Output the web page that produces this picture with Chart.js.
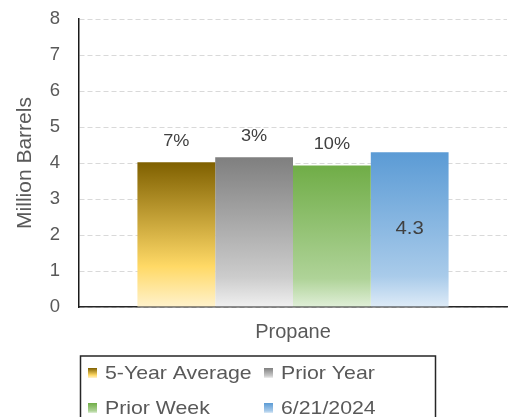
<!DOCTYPE html>
<html>
<head>
<meta charset="utf-8">
<script src="https://cdn.jsdelivr.net/npm/chart.js@4.4.1/dist/chart.umd.min.js"></script>
<style>
  html, body { margin: 0; padding: 0; background: #fff; }
</style>
</head>
<body>
<canvas id="myChart" width="514" height="417"></canvas>
<script>
// chart data
const categories = ['Propane'];
const seriesNames = ['5-Year Average', 'Prior Year', 'Prior Week', '6/21/2024'];
const fiveYearAverage = [4.02];
const priorYear = [4.16];
const priorWeek = [3.93];
const currentWeek = [4.3];
const changeLabels = ['7%', '3%', '10%'];
const yTicks = [0, 1, 2, 3, 4, 5, 6, 7, 8];

// gradient stops per series (top -> bottom)
const seriesStops = [
    [[0, '#7f6000'], [0.72, '#ffd966'], [1, '#fff2cc']],
    [[0, '#7f7f7f'], [0.8, '#cccccc'], [1, '#f0f0f0']],
    [[0, '#70ad47'], [0.8, '#afd398'], [1, '#e0efd8']],
    [[0, '#5b9bd5'], [0.8, '#a9cbea'], [1, '#deebf7']],
];

const FONT = '"Liberation Sans", Arial, sans-serif';
const TEXT = '#595959';

function makeGradient(ctx, stops, y0, y1) {
    const g = ctx.createLinearGradient(0, y0, 0, y1);
    stops.forEach(s => g.addColorStop(s[0], s[1]));
    return g;
}

function barFill(stops) {
    return (c) => {
        const chart = c.chart;
        if (!chart.chartArea || c.raw === undefined) return stops[0][1];
        const y = chart.scales.y;
        return makeGradient(chart.ctx, stops, y.getPixelForValue(c.raw), y.getPixelForValue(0));
    };
}

// text drawn a little wider than normal, like the original
function wideText(ctx, text, x, y, sx) {
    ctx.save();
    ctx.translate(x, y);
    ctx.scale(sx, 1);
    ctx.fillText(text, 0, 0);
    ctx.restore();
}

const seriesValues = [fiveYearAverage, priorYear, priorWeek, currentWeek];

// labels above bars, value inside the last bar
const barLabels = {
    id: 'barLabels',
    afterDatasetsDraw(chart) {
        const ctx = chart.ctx;
        ctx.save();
        ctx.fillStyle = '#404040';
        ctx.textAlign = 'center';
        ctx.textBaseline = 'middle';
        chart.data.datasets.forEach((ds, i) => {
            const bar = chart.getDatasetMeta(i).data[0];
            if (i < changeLabels.length) {
                ctx.font = '16.5px ' + FONT;
                wideText(ctx, changeLabels[i], bar.x, bar.y - 21, 1.1);
            } else {
                ctx.font = '18.5px ' + FONT;
                wideText(ctx, ds.data[0].toFixed(1), bar.x, (bar.y + bar.base) / 2, 1.1);
            }
        });
        ctx.restore();
    }
};

// boxed legend, two columns
const boxLegend = {
    id: 'boxLegend',
    afterDraw(chart) {
        const ctx = chart.ctx;
        ctx.save();
        ctx.strokeStyle = '#262626';
        ctx.lineWidth = 1.5;
        ctx.strokeRect(80.5, 356, 355, 80);
        const colX = [88, 264];
        const rowY = [373, 408];
        ctx.font = '18.5px ' + FONT;
        ctx.textBaseline = 'middle';
        ctx.textAlign = 'left';
        chart.data.datasets.forEach((ds, i) => {
            const x = colX[i % 2];
            const y = rowY[Math.floor(i / 2)];
            ctx.fillStyle = makeGradient(ctx, seriesStops[i], y - 5, y + 5);
            ctx.fillRect(x, y - 5, 9, 10);
            ctx.fillStyle = TEXT;
            wideText(ctx, ds.label, x + 17, y + 1, 1.15);
        });
        ctx.restore();
    }
};

const ctx = document.getElementById('myChart');
new Chart(ctx, {
    type: 'bar',
    data: {
        labels: categories,
        datasets: seriesNames.map((name, i) => ({
            label: name,
            data: seriesValues[i],
            backgroundColor: barFill(seriesStops[i]),
            borderWidth: 0,
            barPercentage: 1,
            categoryPercentage: 0.727
        }))
    },
    options: {
        responsive: false,
        animation: false,
        devicePixelRatio: 1,
        layout: { padding: { top: 19, right: 7, bottom: 60, left: 0 } },
        plugins: {
            legend: { display: false },
            tooltip: { enabled: false }
        },
        scales: {
            x: {
                grid: { display: false, drawTicks: false },
                border: { display: true, color: '#262626', width: 1.5 },
                ticks: { padding: 13, color: TEXT, font: { family: FONT, size: 20 } }
            },
            y: {
                min: 0,
                max: 8,
                afterBuildTicks: (scale) => { scale.ticks = yTicks.map(v => ({ value: v })); },
                afterFit: (scale) => {
                    scale.width = 79;
                    scale.paddingTop = 0;
                    scale.paddingBottom = 0;
                },
                grid: { color: '#d9d9d9', lineWidth: 1, drawTicks: false },
                border: { display: true, color: '#1a1a1a', width: 1.5, dash: [5, 3] },
                ticks: { padding: 19, color: TEXT, font: { family: FONT, size: 18.5 } },
                title: {
                    display: true,
                    text: 'Million Barrels',
                    color: TEXT,
                    font: { family: FONT, size: 21 },
                    padding: { top: 13, bottom: 0 }
                }
            }
        }
    },
    plugins: [barLabels, boxLegend]
});
</script>
</body>
</html>
